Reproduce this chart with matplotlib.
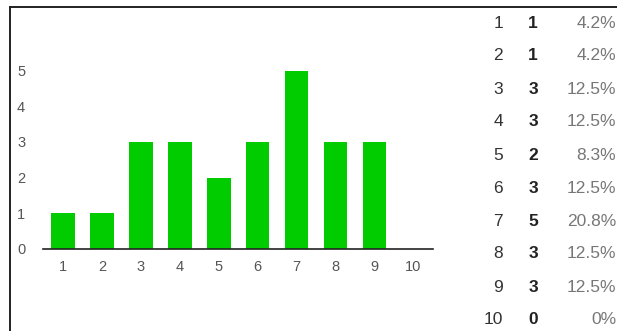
import matplotlib.pyplot as plt
from matplotlib.lines import Line2D

plt.rcParams['font.family'] = ['Liberation Sans', 'DejaVu Sans']

W, H = 617, 331

# data
scores = [1, 2, 3, 4, 5, 6, 7, 8, 9, 10]
counts = [1, 1, 3, 3, 2, 3, 5, 3, 3, 0]
percents = ['4.2%', '4.2%', '12.5%', '12.5%', '8.3%', '12.5%', '20.8%', '12.5%', '12.5%', '0%']
y_ticks = [0, 1, 2, 3, 4, 5]

fig = plt.figure(figsize=(W / 100, H / 100), dpi=100)
fig.patch.set_facecolor('white')

# box frame (left + top line)
fig.add_artist(Line2D([10 / W, 10 / W], [0, 1 - 7 / H], transform=fig.transFigure,
                      color='#222222', lw=1.4))
fig.add_artist(Line2D([10 / W, 1], [1 - 7 / H, 1 - 7 / H], transform=fig.transFigure,
                      color='#222222', lw=1.4))

# bar chart axes: baseline at y=249, x from 43 to 433
ax_left, ax_right = 43.3, 433.3
ax_bottom = 249
unit = 35.7
ymax = 6
ax_top = ax_bottom - ymax * unit
ax = fig.add_axes([ax_left / W, 1 - ax_bottom / H, (ax_right - ax_left) / W,
                   (ax_bottom - ax_top) / H])
ax.bar(scores, counts, width=0.6, color='#00CC00')
ax.set_xlim(0.49, 10.51)
ax.set_ylim(0, ymax)
for s in ['top', 'right', 'left']:
    ax.spines[s].set_visible(False)
ax.spines['bottom'].set_color('#222222')
ax.spines['bottom'].set_linewidth(1.2)
ax.set_xticks(scores)
ax.set_xticklabels([str(s) for s in scores])
ax.set_yticks(y_ticks)
ax.tick_params(axis='both', length=0, labelsize=10.5, colors='#555555')
ax.tick_params(axis='x', pad=8)
ax.tick_params(axis='y', pad=13)

# table on the right
row0, row_step = 23, 33
for i, (s, c, p) in enumerate(zip(scores, counts, percents)):
    y = 1 - (row0 + i * row_step) / H
    fig.text(503 / W, y, str(s), ha='right', va='center', fontsize=12.5, color='#333333')
    fig.text(533 / W, y, str(c), ha='center', va='center', fontsize=12.5,
             color='#222222', fontweight='bold')
    fig.text(616 / W, y, p, ha='right', va='center', fontsize=12.5, color='#777777')

fig.savefig('out.png', dpi=100)
